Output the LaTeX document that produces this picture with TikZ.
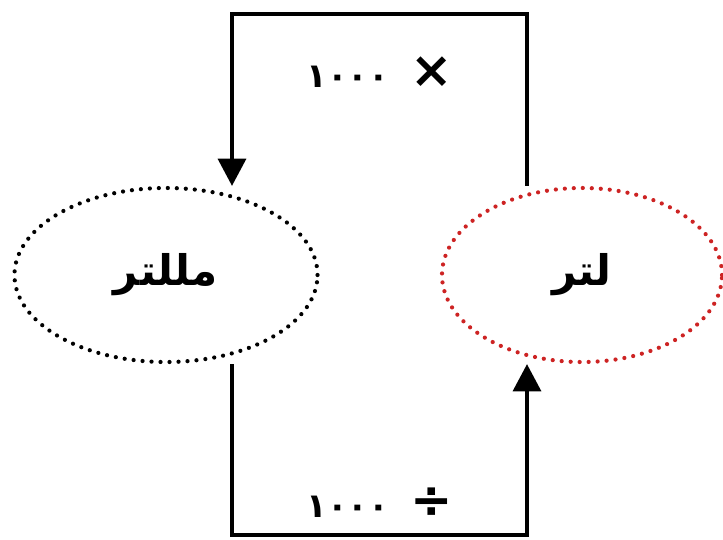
\documentclass[tikz,border=0pt]{standalone}
\usepackage{fontspec}
\TeXXeTstate=1
\newfontfamily\arabicfont[Script=Arabic]{DejaVu Sans}
\usetikzlibrary{arrows.meta,shapes.geometric}
\definecolor{dotred}{RGB}{205,35,35}
\newcommand{\bigop}[1]{{\fontsize{36}{36}\selectfont #1}}
\tikzset{
	unitring/.style={ellipse, draw, line width=3pt, line cap=round,
		dash pattern=on 0pt off 6.4pt, minimum height=4.35cm,
		font=\arabicfont\bfseries\fontsize{30}{36}\selectfont},
	factor/.style={font=\arabicfont\bfseries\fontsize{24}{28}\selectfont},
	flow/.style={line width=2.4pt, -{Triangle[length=0.68cm, width=0.7cm]}}
}
\begin{document}
\begin{tikzpicture}[x=0.025cm, y=-0.025cm]
	\useasboundingbox (0,0) rectangle (723,539);
	% the two units
	\node[unitring, minimum width=7.575cm] (ml) at (166,275) {\beginR مللتر\endR};
	\node[unitring, dotred, text=black, minimum width=7cm] (lit) at (582,275) {\beginR لتر\endR};
	% corners of the loop
	\coordinate (tl) at (232,14);
	\coordinate (tr) at (527,14);
	\coordinate (bl) at (232,535);
	\coordinate (br) at (527,535);
	\draw[flow] (lit.north -| tr) -- (tr) -- (tl) -- (ml.north -| tl);
	\draw[flow] (ml.south -| bl) -- (bl) -- (br) -- (lit.south -| br);
	\node[factor] (mul) at (380,72) {\beginR \bigop{×}\hspace{0.55cm}\beginL١٠٠٠\endL\endR};
	\node[factor] (div) at (380,503) {\beginR \bigop{÷}\hspace{0.55cm}\beginL١٠٠٠\endL\endR};
\end{tikzpicture}
\end{document}
